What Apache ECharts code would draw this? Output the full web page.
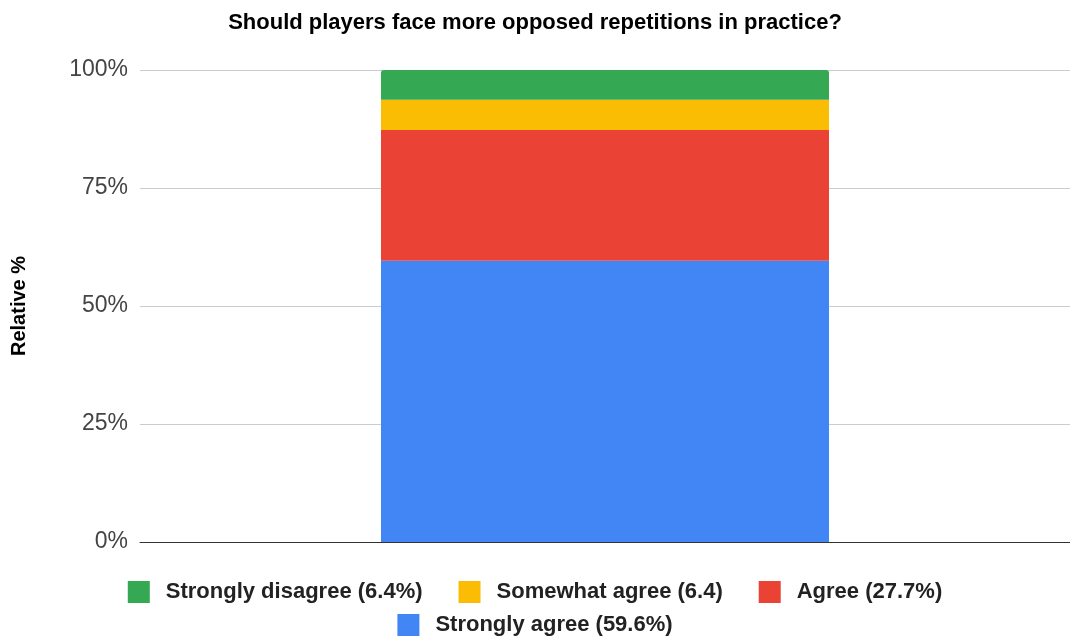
<!DOCTYPE html>
<html>
<head>
<meta charset="utf-8">
<script src="https://cdn.jsdelivr.net/npm/echarts@6/dist/echarts.min.js"></script>
<style>
html, body { margin: 0; padding: 0; background: #fff; }
#chart { width: 1070px; height: 636px; }
</style>
</head>
<body>
<div id="chart"></div>
<script>
// Survey answers, stacked bottom to top
const categories = ['Responses'];
const seriesNames = ['Strongly agree (59.6%)', 'Agree (27.7%)', 'Somewhat agree (6.4)', 'Strongly disagree (6.4%)'];
const seriesValues = [59.6, 27.7, 6.4, 6.4];
const seriesColors = ['#4285f4', '#ea4335', '#fbbc04', '#34a853'];
// Legend is laid out in two rows
const legendRow1 = ['Strongly disagree (6.4%)', 'Somewhat agree (6.4)', 'Agree (27.7%)'];
const legendRow2 = ['Strongly agree (59.6%)'];
const yTicks = [0, 25, 50, 75, 100];

const FONT = 'Liberation Sans, Arial, sans-serif';

const chart = echarts.init(document.getElementById('chart'));

const series = seriesNames.map((name, i) => ({
  name: name,
  type: 'bar',
  stack: 'total',
  barWidth: 448,
  data: [seriesValues[i]],
  itemStyle: {
    color: seriesColors[i],
    borderRadius: i === seriesNames.length - 1 ? [3, 3, 0, 0] : 0
  },
  emphasis: { disabled: true }
}));

const legendBase = {
  left: 'center',
  itemWidth: 22,
  itemHeight: 22,
  itemGap: 36,
  icon: 'rect',
  textStyle: {
    fontFamily: FONT,
    fontSize: 22,
    fontWeight: 'bold',
    color: '#222',
    padding: [0, 0, 0, 11]
  }
};

chart.setOption({
  animation: false,
  title: {
    text: 'Should players face more opposed repetitions in practice?',
    left: 'center',
    top: 7,
    textStyle: {
      fontFamily: FONT,
      fontSize: 22,
      fontWeight: 'bold',
      color: '#000'
    }
  },
  legend: [
    Object.assign({}, legendBase, { data: legendRow1, top: 576 }),
    Object.assign({}, legendBase, { data: legendRow2, top: 609 })
  ],
  grid: {
    left: 140,
    right: 0,
    top: 70,
    bottom: 94
  },
  xAxis: {
    type: 'category',
    data: categories,
    axisTick: { show: false },
    axisLabel: { show: false },
    axisLine: { show: true, lineStyle: { color: '#333', width: 1 } }
  },
  yAxis: {
    type: 'value',
    min: yTicks[0],
    max: yTicks[yTicks.length - 1],
    interval: 25,
    name: 'Relative %',
    nameLocation: 'middle',
    nameGap: 111,
    nameTextStyle: {
      fontFamily: FONT,
      fontSize: 20,
      fontWeight: 'bold',
      color: '#000'
    },
    axisLine: { show: false },
    axisTick: { show: false },
    axisLabel: {
      formatter: '{value}%',
      margin: 12,
      fontFamily: FONT,
      fontSize: 23,
      color: '#444'
    },
    splitLine: { lineStyle: { color: '#cccccc', width: 1 } }
  },
  series: series
});
</script>
</body>
</html>
